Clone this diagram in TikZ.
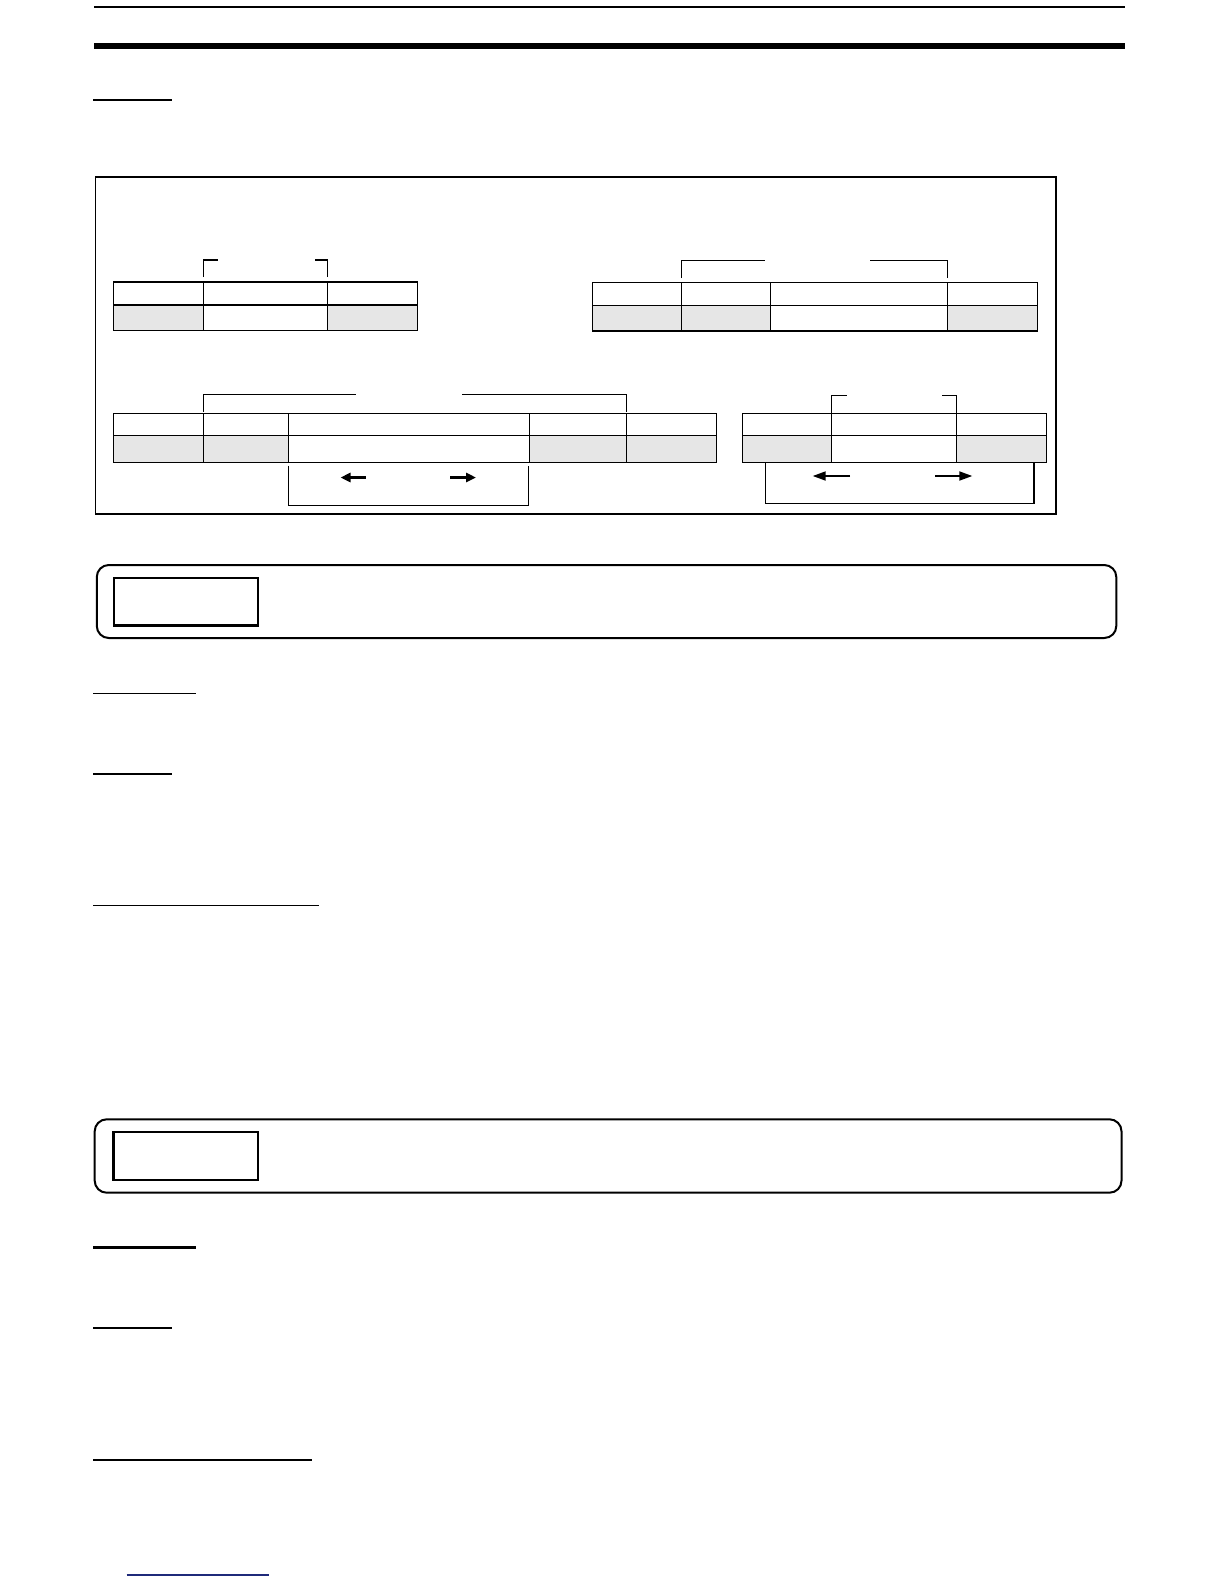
\documentclass[tikz,border=0pt]{standalone}
\usetikzlibrary{arrows.meta}
\definecolor{cellgrey}{HTML}{E6E6E6}
\definecolor{linkblue}{HTML}{1F2A7A}
\tikzset{
  cellbox/.style={draw=black, line width=1.2pt, inner sep=0pt, outer sep=0pt, rectangle},
  shaded/.style={fill=cellgrey},
  plain/.style={fill=white},
  brk/.style={line width=1.2pt},
  frame/.style={draw=black, line width=1.2pt, inner sep=0pt, outer sep=0pt, rectangle},
  notebox/.style={draw=black, line width=2pt, rounded corners=12pt, inner sep=0pt, outer sep=0pt, rectangle},
  tagbox/.style={draw=black, line width=2.3pt, inner sep=0pt, outer sep=0pt, rectangle},
  fatarrow/.style={line width=3pt, -{Triangle[length=10pt,width=9pt]}},
  thinarrow/.style={line width=1.8pt, -{Triangle[length=13pt,width=9pt]}},
  rulethin/.style={line width=1.5pt},
  rulethick/.style={line width=2.3pt},
}
\newcommand\mkcell[6]{\node[cellbox,#6,minimum width={(#4)-(#2)},minimum height={(#5)-(#3)},anchor=north west] (#1) at (#2,#3) {};}
\begin{document}
\begin{tikzpicture}[x=1pt,y=-1pt]
\useasboundingbox[fill=white] (0,0) rectangle (1224,1584);

% header rules
\draw[line width=1.8pt] (94,6.8) -- (1125,6.8);
\draw[line width=6.3pt] (94,45.8) -- (1125,45.8);

% underlines
\draw[rulethin] (93.3,100) -- (172,100);
\draw[rulethin] (93.3,693.5) -- (195.7,693.5);
\draw[rulethin] (93.3,774) -- (171.7,774);
\draw[rulethin] (93.3,905.3) -- (319,905.3);
\draw[rulethick] (93.3,1247.5) -- (195.7,1247.5);
\draw[rulethin] (93.3,1328) -- (171.7,1328);
\draw[rulethick] (93.3,1459.7) -- (311.7,1459.7);
\draw[rulethin, draw=linkblue] (126.7,1575) -- (269,1575);

% outer frame
\node[frame, minimum width=960.5, minimum height=337, anchor=north west] (outer) at (95.5,177) {};

% table A (top left)
\mkcell{ta11}{113.3}{282}{203.3}{305}{plain}
\mkcell{ta12}{203.3}{282}{327.7}{305}{plain}
\mkcell{ta13}{327.7}{282}{417.7}{305}{plain}
\mkcell{ta21}{113.3}{305}{203.3}{330.5}{shaded}
\mkcell{ta22}{203.3}{305}{327.7}{330.5}{plain}
\mkcell{ta23}{327.7}{305}{417.7}{330.5}{shaded}
\draw[line width=2pt] (ta11.north west) -- (ta13.north east);
\draw[brk] ([yshift=5pt]ta12.north west) -- ++(0,-17) -- ++(14.4,0);
\draw[brk] ([yshift=5pt]ta13.north west) -- ++(0,-17) -- ++(-13,0);

% table B (top right)
\mkcell{tb11}{592.3}{282.5}{681.3}{305.3}{plain}
\mkcell{tb12}{681.3}{282.5}{770.3}{305.3}{plain}
\mkcell{tb13}{770.3}{282.5}{947.7}{305.3}{plain}
\mkcell{tb14}{947.7}{282.5}{1037.7}{305.3}{plain}
\mkcell{tb21}{592.3}{305.3}{681.3}{331}{shaded}
\mkcell{tb22}{681.3}{305.3}{770.3}{331}{shaded}
\mkcell{tb23}{770.3}{305.3}{947.7}{331}{plain}
\mkcell{tb24}{947.7}{305.3}{1037.7}{331}{shaded}
\draw[brk] ([yshift=4.5pt]tb12.north west) -- ++(0,-17.5) -- ++(83.4,0);
\draw[brk] ([yshift=4.5pt]tb14.north west) -- ++(0,-17.5) -- ++(-77.4,0);

% table C (bottom left)
\mkcell{tc11}{113.3}{413.8}{203.5}{435.8}{plain}
\mkcell{tc12}{203.5}{413.8}{288.4}{435.8}{plain}
\mkcell{tc13}{288.4}{413.8}{529.6}{435.8}{plain}
\mkcell{tc14}{529.6}{413.8}{626.3}{435.8}{plain}
\mkcell{tc15}{626.3}{413.8}{716.5}{435.8}{plain}
\mkcell{tc21}{113.3}{435.8}{203.5}{462.6}{shaded}
\mkcell{tc22}{203.5}{435.8}{288.4}{462.6}{shaded}
\mkcell{tc23}{288.4}{435.8}{529.6}{462.6}{plain}
\mkcell{tc24}{529.6}{435.8}{626.3}{462.6}{shaded}
\mkcell{tc25}{626.3}{435.8}{716.5}{462.6}{shaded}
\draw[brk] ([yshift=2pt]tc12.north west) -- ++(0,-17) -- ++(152.5,0);
\draw[brk] ([yshift=2pt]tc15.north west) -- ++(0,-17) -- ++(-164.3,0);
\draw[brk] ([yshift=-3pt]tc23.south west) -- ++(0,40) -- ++(240,0) -- ++(0,-40);
\coordinate (ca1) at (365.5,477.5);
\coordinate (ca2) at (340.5,477.5);
\coordinate (ca3) at (450,477.5);
\coordinate (ca4) at (476,477.5);
\draw[fatarrow] (ca1) -- (ca2);
\draw[fatarrow] (ca3) -- (ca4);

% table D (bottom right)
\mkcell{td11}{742.3}{413.8}{831.3}{435.8}{plain}
\mkcell{td12}{831.3}{413.8}{956.3}{435.8}{plain}
\mkcell{td13}{956.3}{413.8}{1046.3}{435.8}{plain}
\mkcell{td21}{742.3}{435.8}{831.3}{462.6}{shaded}
\mkcell{td22}{831.3}{435.8}{956.3}{462.6}{plain}
\mkcell{td23}{956.3}{435.8}{1046.3}{462.6}{shaded}
\draw[brk] (td12.north west) -- ++(0,-18.5) -- ++(15.4,0);
\draw[brk] (td13.north west) -- ++(0,-18.5) -- ++(-14,0);
\draw[brk] (765.3,462.6) coordinate (du1) -- ++(0,40.7) -- ++(268.7,0) -- ++(0,-40.7);
\coordinate (da1) at (850,476);
\coordinate (da2) at (812.7,476);
\coordinate (da3) at (935,476);
\coordinate (da4) at (972.3,476);
\draw[thinarrow] (da1) -- (da2);
\draw[thinarrow] (da3) -- (da4);

% note boxes
\node[notebox, minimum width=1019.5, minimum height=73, anchor=north west] (note1) at (96.8,565) {};
\node[tagbox, minimum width=144, minimum height=47.8, anchor=north west] (tag1) at (114,577.7) {};
\node[notebox, minimum width=1026.8, minimum height=73.4, anchor=north west] (note2) at (94.7,1119.3) {};
\node[tagbox, minimum width=144.5, minimum height=48, anchor=north west] (tag2) at (113.5,1132) {};
\end{tikzpicture}
\end{document}
